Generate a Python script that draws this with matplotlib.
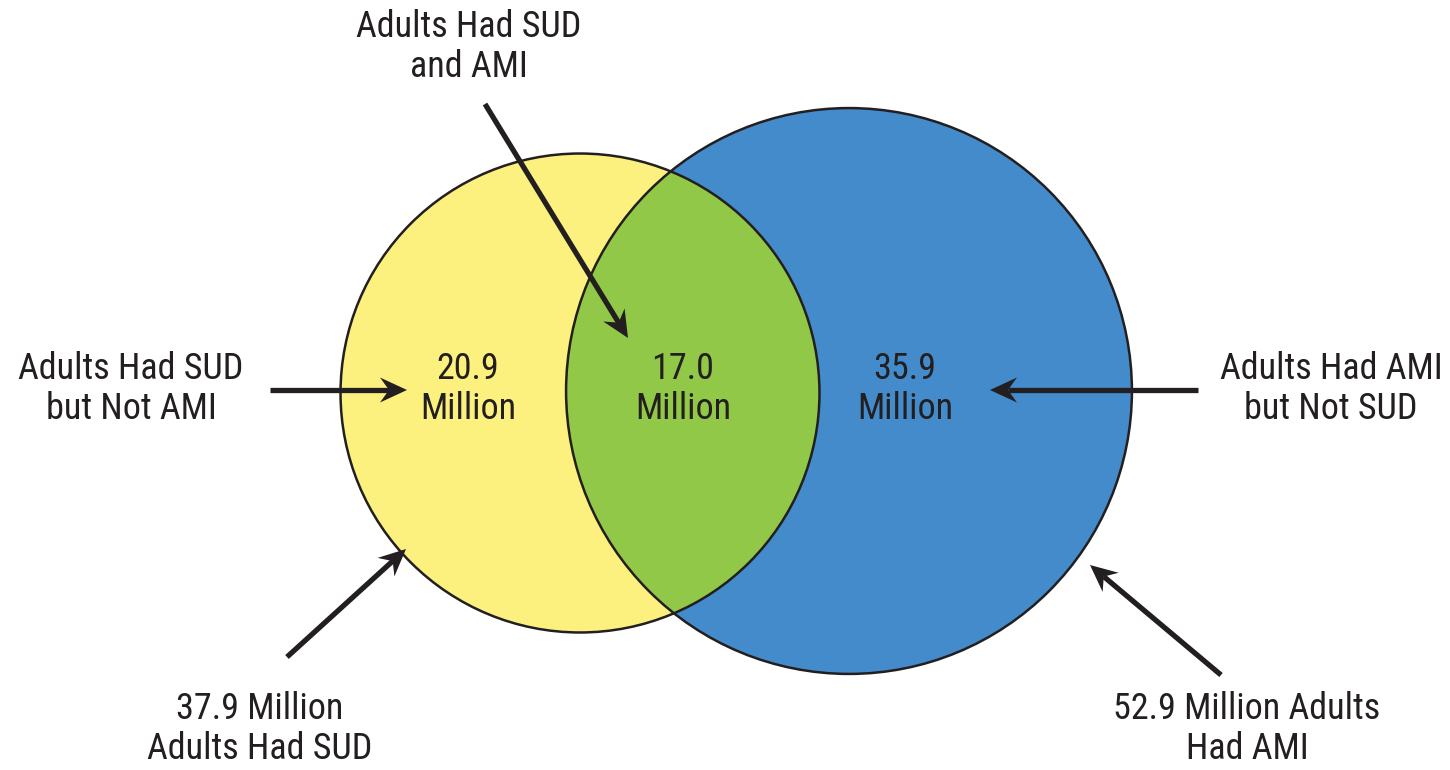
import numpy as np
import matplotlib
matplotlib.use("Agg")
import matplotlib.pyplot as plt
from matplotlib import font_manager
from matplotlib.patches import Circle, Polygon

# narrowest sans available
installed = {f.name for f in font_manager.fontManager.ttflist}
for name in ["Liberation Sans Narrow", "Roboto Condensed", "Open Sans Condensed",
             "Noto Sans Condensed", "Roboto", "Liberation Sans"]:
    if name in installed:
        base_font = name
        break
else:
    base_font = "DejaVu Sans"
plt.rcParams["font.family"] = [base_font, "DejaVu Sans"]

# Sizes in millions of adults
set_names = ["SUD", "AMI"]
set_totals = [37.9, 52.9]
region_names = ["SUD only", "SUD and AMI", "AMI only"]
region_values = [20.9, 17.0, 35.9]

yellow = "#fcf07e"
green = "#92c847"
blue = "#438bcb"
ink = "#231f20"

fig = plt.figure(figsize=(14.5, 7.7), dpi=100)
ax = fig.add_axes([0, 0, 1, 1])
ax.set_xlim(0, 1450)
ax.set_ylim(770, 0)
ax.set_aspect("equal")
ax.axis("off")

# radius scales with sqrt of the set size
k = 38.9
r_sud = k * np.sqrt(set_totals[0])
r_ami = k * np.sqrt(set_totals[1])
c_sud = (580, 393)
c_ami = (849, 391)

ax.add_patch(Circle(c_sud, r_sud, facecolor=yellow, edgecolor="none", zorder=1))
ax.add_patch(Circle(c_ami, r_ami, facecolor=blue, edgecolor="none", zorder=1))
# overlap: yellow circle clipped to the blue one
lens = Circle(c_sud, r_sud, facecolor=green, edgecolor="none", zorder=2)
ax.add_patch(lens)
clip = Circle(c_ami, r_ami, transform=ax.transData)
lens.set_clip_path(clip)
for c, r in [(c_sud, r_sud), (c_ami, r_ami)]:
    ax.add_patch(Circle(c, r, facecolor="none", edgecolor=ink, lw=1.8, zorder=3))


def draw_arrow(start, end, L=27, W=12.5, notch=9):
    start = np.array(start, float)
    end = np.array(end, float)
    u = (end - start) / np.linalg.norm(end - start)
    n = np.array([-u[1], u[0]])
    back = end - (L - notch) * u
    ax.plot([start[0], back[0]], [start[1], back[1]], color=ink, lw=3.8,
            solid_capstyle="butt", zorder=5)
    head = [end, end - L * u + W * n, back, end - L * u - W * n]
    ax.add_patch(Polygon(head, closed=True, facecolor=ink, edgecolor="none", zorder=6))


draw_arrow((270, 390), (407, 390))
draw_arrow((1198, 390), (990, 390))
draw_arrow((485, 104), (628, 338))
draw_arrow((287, 657), (406, 549))
draw_arrow((1221, 675), (1090, 565))

fs = 26
kw = dict(ha="center", va="center", fontsize=fs, color=ink, linespacing=1.15, zorder=7)

ax.text(131, 389, "Adults Had SUD\nbut Not AMI", **kw)
ax.text(469, 47, "Adults Had SUD\nand AMI", **kw)
ax.text(1331, 389, "Adults Had AMI\nbut Not SUD", **kw)
ax.text(260, 729, f"{set_totals[0]:.1f} Million\nAdults Had {set_names[0]}", **kw)
ax.text(1247, 729, f"{set_totals[1]:.1f} Million Adults\nHad {set_names[1]}", **kw)

for x, v in zip([468, 683, 905], region_values):
    ax.text(x, 389, f"{v:.1f}\nMillion", **kw)

fig.savefig("out.png", dpi=100)
